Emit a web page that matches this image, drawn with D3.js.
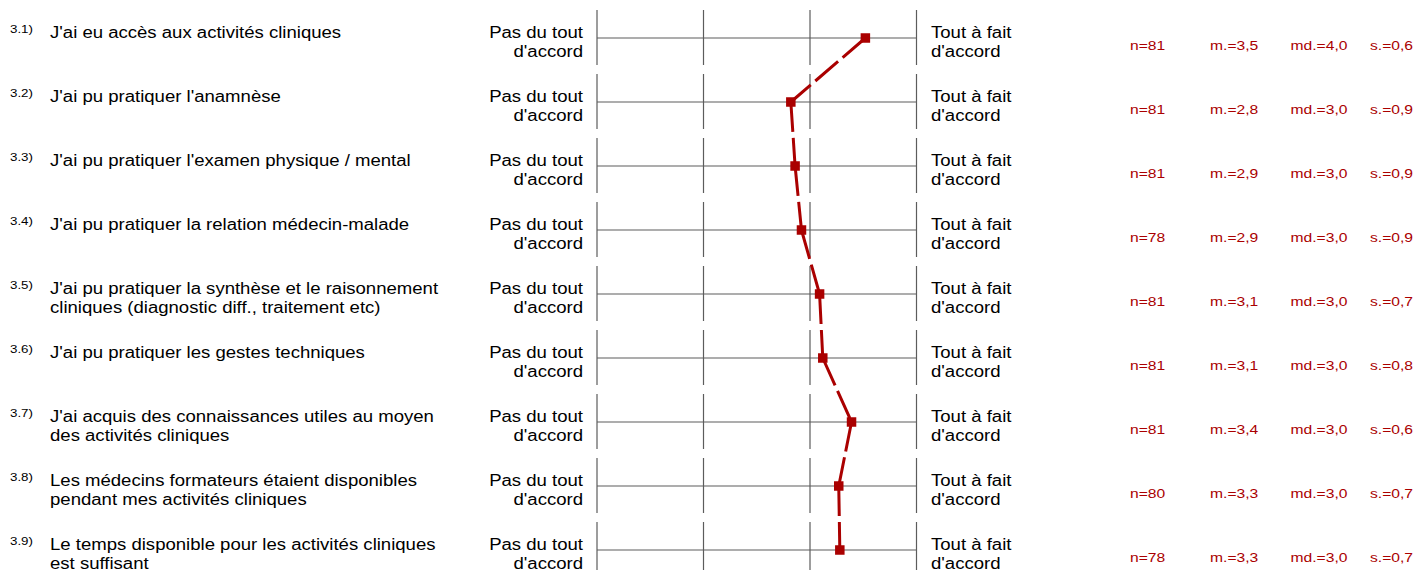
<!DOCTYPE html>
<html>
<head>
<meta charset="utf-8">
<script src="https://cdn.jsdelivr.net/npm/d3@7"></script>
<style>
  html, body { margin: 0; padding: 0; background: #fff; }
  svg { display: block; font-family: Arial, "Liberation Sans", Helvetica, sans-serif; }
</style>
</head>
<body>
<svg id="chart" width="1417" height="570"></svg>
<script>
// Item numbers and wording of each question (one array entry per text line)
const itemNumbers = ["3.1)", "3.2)", "3.3)", "3.4)", "3.5)", "3.6)", "3.7)", "3.8)", "3.9)"];
const itemLabels = [
  ["J'ai eu accès aux activités cliniques"],
  ["J'ai pu pratiquer l'anamnèse"],
  ["J'ai pu pratiquer l'examen physique / mental"],
  ["J'ai pu pratiquer la relation médecin-malade"],
  ["J'ai pu pratiquer la synthèse et le raisonnement", "cliniques (diagnostic diff., traitement etc)"],
  ["J'ai pu pratiquer les gestes techniques"],
  ["J'ai acquis des connaissances utiles au moyen", "des activités cliniques"],
  ["Les médecins formateurs étaient disponibles", "pendant mes activités cliniques"],
  ["Le temps disponible pour les activités cliniques", "est suffisant"]
];

// Responses per item and summary statistics (scale 1 to 4)
const counts  = [81, 81, 81, 78, 81, 81, 81, 80, 78];
const means   = [3.52, 2.82, 2.86, 2.92, 3.09, 3.12, 3.39, 3.27, 3.28];
const medians = [4.0, 3.0, 3.0, 3.0, 3.0, 3.0, 3.0, 3.0, 3.0];
const stdevs  = [0.6, 0.9, 0.9, 0.9, 0.7, 0.8, 0.6, 0.7, 0.7];

// Scale anchors and tick values
const scaleTicks = [1, 2, 3, 4];
const leftAnchor  = ["Pas du tout", "d'accord"];
const rightAnchor = ["Tout à fait", "d'accord"];

const svg = d3.select("#chart");
const red = "#aa0000";
const grid = "#5c5c5c";
const stretch = 1.16;   // horizontal widening of the lettering

const x = d3.scaleLinear().domain([1, 4]).range([597, 916.5]);
const y = d3.scalePoint().domain(d3.range(itemNumbers.length)).range([38, 550]);

const fmt1 = v => d3.format(".1f")(v).replace(".", ",");

// helper: text placed at (px,py), widened horizontally around its anchor
function label(g, px, py, txt, size, anchor, fill) {
  g.append("text")
    .attr("transform", `translate(${px},${py}) scale(${stretch},1)`)
    .attr("text-anchor", anchor || "start")
    .attr("font-size", size)
    .attr("fill", fill || "#000")
    .text(txt);
}

const rows = svg.append("g").selectAll("g.row")
  .data(d3.range(itemNumbers.length))
  .join("g").attr("class", "row");

rows.each(function(i) {
  const g = d3.select(this);
  const cy = y(i);

  // question number and wording
  label(g, 10, cy - 5, itemNumbers[i], 11.5);
  itemLabels[i].forEach((line, k) => label(g, 50, cy + k * 18.5, line, 16));

  // scale anchors
  leftAnchor.forEach((line, k) => label(g, 583, cy + k * 18.5, line, 16, "end"));
  rightAnchor.forEach((line, k) => label(g, 931, cy + k * 18.5, line, 16, "start"));

  // horizontal axis line and vertical ticks
  g.append("line")
    .attr("x1", x(1)).attr("x2", x(4))
    .attr("y1", cy).attr("y2", cy)
    .attr("stroke", grid).attr("stroke-width", 1.2);
  g.selectAll("line.tick").data(scaleTicks).join("line")
    .attr("class", "tick")
    .attr("x1", d => x(d)).attr("x2", d => x(d))
    .attr("y1", cy - 28).attr("y2", cy + 27)
    .attr("stroke", grid).attr("stroke-width", 1.2);

  // summary statistics
  label(g, 1130, cy + 12, "n=" + counts[i], 13.5, "start", red);
  label(g, 1210, cy + 12, "m.=" + fmt1(means[i]), 13.5, "start", red);
  label(g, 1290.5, cy + 12, "md.=" + fmt1(medians[i]), 13.5, "start", red);
  label(g, 1370, cy + 12, "s.=" + fmt1(stdevs[i]), 13.5, "start", red);
});

// dashed profile line joining the means, one segment per pair of items
const pts = means.map((m, i) => [x(m), y(i)]);
svg.append("g").selectAll("line")
  .data(d3.pairs(pts))
  .join("line")
  .attr("x1", d => d[0][0]).attr("y1", d => d[0][1])
  .attr("x2", d => d[1][0]).attr("y2", d => d[1][1])
  .attr("stroke", red).attr("stroke-width", 3)
  .attr("stroke-dasharray", "30,6");

// mean markers
const sz = 9.5;
svg.append("g").selectAll("rect")
  .data(pts)
  .join("rect")
  .attr("x", d => d[0] - sz / 2).attr("y", d => d[1] - sz / 2)
  .attr("width", sz).attr("height", sz)
  .attr("fill", red);
</script>
</body>
</html>
